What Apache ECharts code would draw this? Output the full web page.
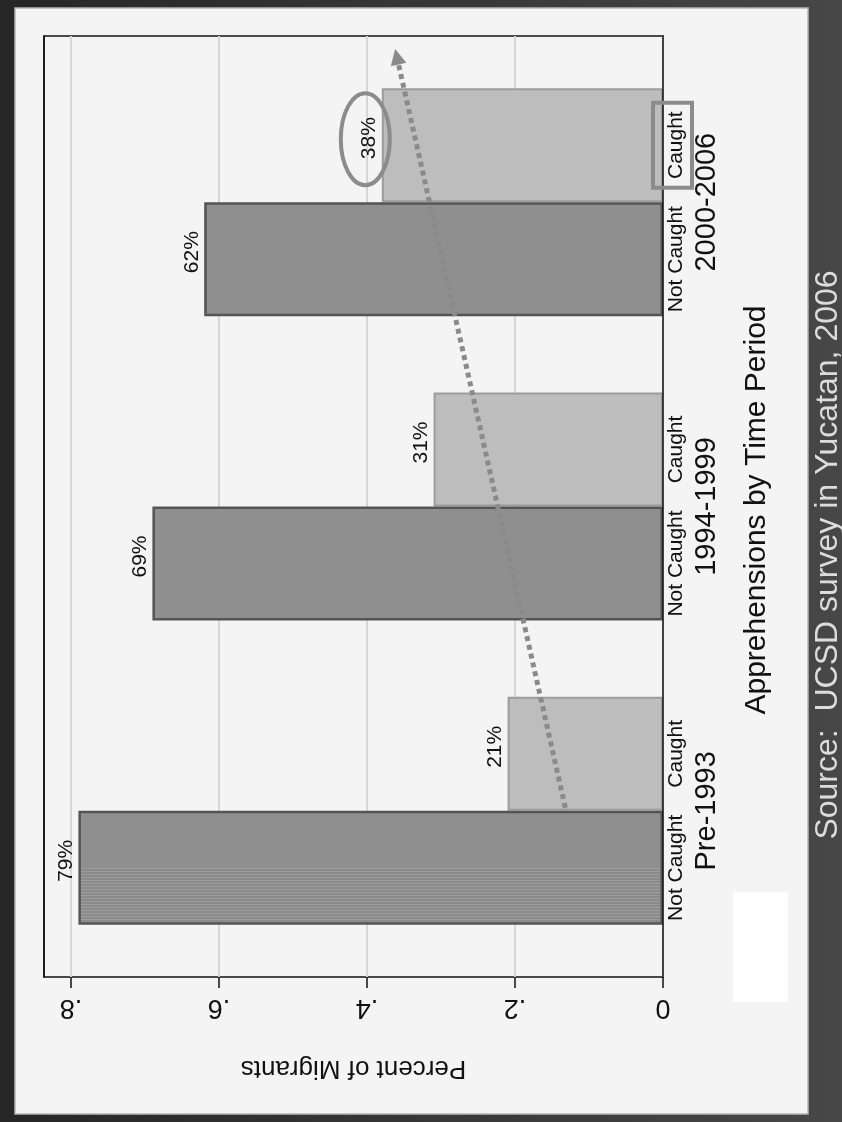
<!DOCTYPE html>
<html>
<head>
<meta charset="utf-8">
<title>Apprehensions by Time Period</title>
<script src="https://cdn.jsdelivr.net/npm/echarts@6/dist/echarts.min.js"></script>
<style>
  html, body { margin: 0; padding: 0; background: #3c3c3c; }
  #main { width: 842px; height: 1122px; }
</style>
</head>
<body>
<div id="main"></div>
<script>
// data
var periods = ['Pre-1993', '1994-1999', '2000-2006'];
var notCaught = [0.79, 0.69, 0.62];
var caught = [0.21, 0.31, 0.38];
var xTicks = [0, 0.2, 0.4, 0.6, 0.8];
var xMax = 0.8365;

// annotation arrow ends (value axis units)
var arrowFrom = 0.132, arrowTo = 0.362;

var FONT = '"Liberation Sans", Arial, Helvetica, sans-serif';
var BAR = 114;

// striped lower half of the first dark bar (scan texture)
var stops = [{offset: 0, color: '#8f8f8f'}, {offset: 0.5, color: '#8f8f8f'}];
for (var k = 0; k < 19; k++) {
  var a = 0.5 + k * 0.0263, b = a + 0.0132, c = Math.min(a + 0.0263, 1);
  stops.push({offset: a, color: '#9c9c9c'}, {offset: b, color: '#9c9c9c'},
             {offset: b, color: '#8b8b8b'}, {offset: c, color: '#8b8b8b'});
}
var stripeFill = {type: 'linear', x: 0, y: 0, x2: 0, y2: 1, colorStops: stops};

var ncData = notCaught.map(function (v, i) {
  return i === 0 ? {value: v, itemStyle: {color: stripeFill}} : v;
});

var valueLabel = {
  show: true,
  position: 'left',
  rotate: 90,
  align: 'center',
  verticalAlign: 'bottom',
  distance: 2,
  offset: [7, 0],
  fontFamily: FONT,
  fontSize: 21,
  color: '#111',
  formatter: function (p) { return Math.round(p.value * 100) + '%'; }
};

var chart = echarts.init(document.getElementById('main'));

chart.setOption({
  animation: false,
  backgroundColor: {type: 'linear', x: 0, y: 0, x2: 1, y2: 0,
    colorStops: [{offset: 0, color: '#262626'}, {offset: 1, color: '#474747'}]},
  textStyle: {fontFamily: FONT},
  grid: [
    {left: 44, right: 179, top: 50, bottom: 159},
    {left: 44, right: 179, top: 36, bottom: 145, show: true, borderColor: '#111', borderWidth: 1.5, backgroundColor: 'transparent'}
  ],
  xAxis: [
    {gridIndex: 0, type: 'value', min: 0, max: xMax, inverse: true, show: false},
    {
      gridIndex: 1, type: 'value', min: 0, max: xMax, interval: 0.2, inverse: true, position: 'bottom',
      axisLine: {show: false},
      axisTick: {show: true, length: 11, customValues: xTicks, lineStyle: {color: '#111', width: 1.5}},
      axisLabel: {
        rotate: 180, margin: 17, fontSize: 27, color: '#111', customValues: xTicks,
        formatter: function (v) { return v === 0 ? '0' : '.' + Math.round(v * 10); }
      },
      splitLine: {show: true, lineStyle: {color: '#d6d6d6', width: 2}},
      name: 'Percent of Migrants', nameLocation: 'middle', nameRotate: 180, nameGap: 78,
      nameTextStyle: {fontSize: 26, color: '#111'}
    }
  ],
  yAxis: [
    {
      gridIndex: 0, type: 'category', data: periods, position: 'right',
      axisLine: {show: false}, axisTick: {show: false},
      axisLabel: {
        rotate: 90, margin: 2, color: '#111',
        formatter: function (v) { return '{nc|Not Caught}{c|Caught}\n{p|' + v + '}'; },
        rich: {
          nc: {width: BAR, align: 'center', fontSize: 21, lineHeight: 22, color: '#111'},
          c: {width: BAR, align: 'center', fontSize: 21, lineHeight: 22, color: '#111'},
          p: {align: 'center', fontSize: 29, lineHeight: 40, color: '#111'}
        }
      }
    },
    {gridIndex: 1, type: 'value', position: 'right', z: 10, axisLine: {show: true, lineStyle: {color: '#111', width: 1.5}},
     axisTick: {show: false}, axisLabel: {show: false}, splitLine: {show: false}},
    {gridIndex: 1, type: 'value', position: 'left', z: 10, axisLine: {show: true, lineStyle: {color: '#111', width: 1.5}},
     axisTick: {show: false}, axisLabel: {show: false}, splitLine: {show: false}}
  ],
  series: [
    {
      name: 'Caught', type: 'bar', xAxisIndex: 0, yAxisIndex: 0,
      barWidth: BAR, barGap: '0%',
      itemStyle: {color: '#bdbdbd', borderColor: '#9c9c9c', borderWidth: 2},
      label: valueLabel,
      data: caught
    },
    {
      name: 'Not Caught', type: 'bar', xAxisIndex: 0, yAxisIndex: 0,
      barWidth: BAR, barGap: '0%',
      itemStyle: {color: '#8f8f8f', borderColor: '#545454', borderWidth: 2.5},
      label: valueLabel,
      data: ncData
    }
  ]
});

// annotations placed from the axes
var x0 = chart.convertToPixel({xAxisIndex: 0}, 0);
var yC = periods.map(function (p) { return chart.convertToPixel({yAxisIndex: 0}, p); });
var band = yC[0] - yC[1];
var lastCaughtY = yC[2] - BAR / 2;
var lastCaughtX = chart.convertToPixel({xAxisIndex: 0}, caught[2]);

var tail = [chart.convertToPixel({xAxisIndex: 0}, arrowFrom), yC[0] - 3];
var tip = [chart.convertToPixel({xAxisIndex: 0}, arrowTo), yC[2] - band / 2 - 1];
var dx = tip[0] - tail[0], dy = tip[1] - tail[1];
var len = Math.sqrt(dx * dx + dy * dy);
var ux = dx / len, uy = dy / len;
var headLen = 16, headW = 8;
var base = [tip[0] - ux * headLen, tip[1] - uy * headLen];

chart.setOption({
  graphic: [
    {id: 'panel', type: 'rect', z: -10, silent: true,
     shape: {x: 15, y: 8, width: 793, height: 1106},
     style: {fill: '#f4f4f4', stroke: '#b5b5b5', lineWidth: 1.5}},
    {id: 'blank', type: 'rect', z: 5, silent: true,
     shape: {x: 733, y: 892, width: 55, height: 110},
     style: {fill: '#ffffff'}},
    {id: 'title', type: 'text', x: 757, y: 510, rotation: Math.PI / 2, z: 5, silent: true,
     style: {text: 'Apprehensions by Time Period', x: 0, y: 0, align: 'center', verticalAlign: 'middle',
             font: '30px ' + FONT, fill: '#111'}},
    {id: 'source', type: 'text', x: 828, y: 555, rotation: Math.PI / 2, z: 5, silent: true,
     style: {text: 'Source:  UCSD survey in Yucatan, 2006', x: 0, y: 0, align: 'center', verticalAlign: 'middle',
             font: '32px ' + FONT, fill: '#dcdcdc'}},
    {id: 'arrowLine', type: 'line', z: 20, silent: true,
     shape: {x1: tail[0], y1: tail[1], x2: base[0], y2: base[1]},
     style: {stroke: '#8a8a8a', lineWidth: 5, lineDash: [5, 4]}},
    {id: 'arrowHead', type: 'polygon', z: 20, silent: true,
     shape: {points: [tip, [base[0] - uy * headW, base[1] + ux * headW], [base[0] + uy * headW, base[1] - ux * headW]]},
     style: {fill: '#8a8a8a'}},
    {id: 'ellipse', type: 'ellipse', z: 20, silent: true,
     shape: {cx: lastCaughtX - 16.5, cy: lastCaughtY - 6, rx: 24.5, ry: 46},
     style: {fill: 'none', stroke: '#8c8c8c', lineWidth: 4}},
    {id: 'box', type: 'rect', z: 20, silent: true,
     shape: {x: x0 - 10, y: lastCaughtY - 42.5, width: 39, height: 85},
     style: {fill: 'none', stroke: '#8c8c8c', lineWidth: 4}}
  ]
});
</script>
</body>
</html>
